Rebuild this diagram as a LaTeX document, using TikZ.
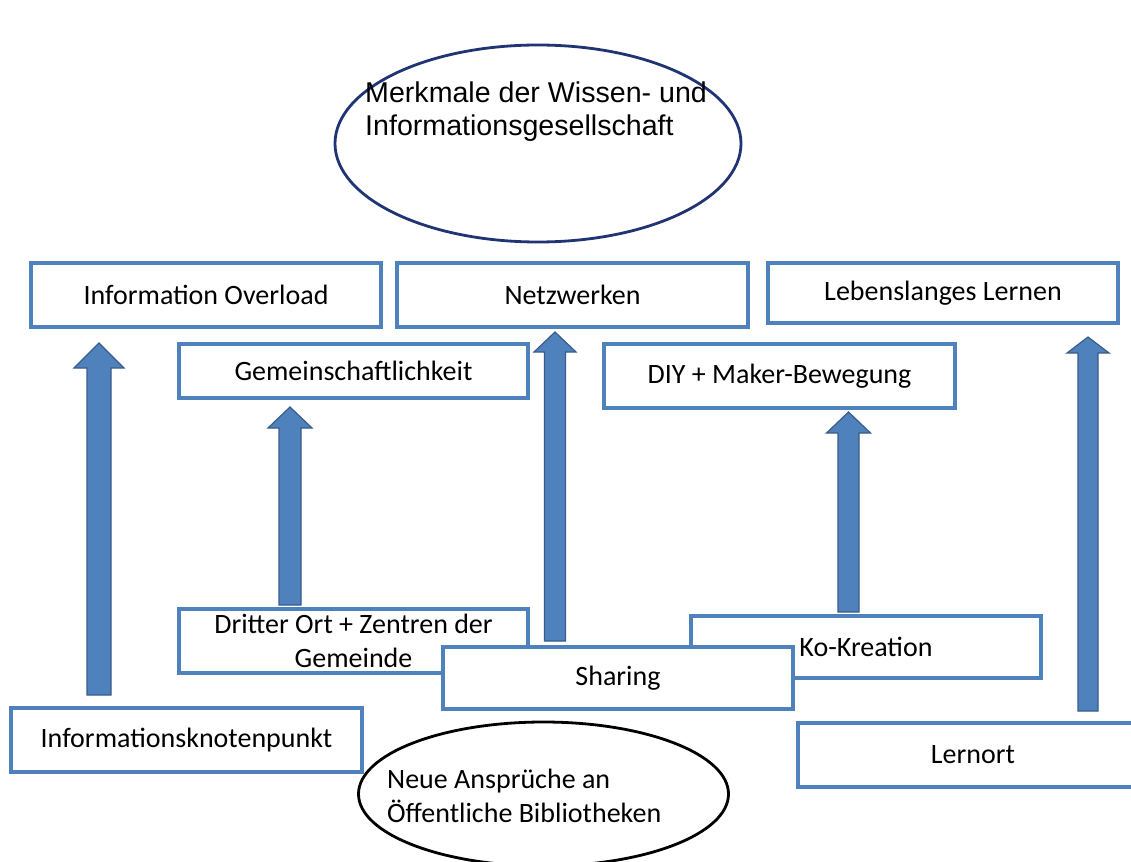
\documentclass[tikz,border=0pt]{standalone}
\usepackage{fontspec}
\setmainfont{Carlito}
\newfontfamily\arialf{Liberation Sans}
\usetikzlibrary{calc,shapes.geometric}
\definecolor{boxblue}{RGB}{79,129,189}
\definecolor{arrline}{RGB}{56,93,138}
\definecolor{navyline}{RGB}{32,52,115}
\tikzset{
  box/.style={draw=boxblue, line width=3.1pt, fill=white, inner sep=0pt,
    minimum width=350pt, minimum height=64pt, align=center,
    font=\fontsize{28pt}{34pt}\selectfont},
  ovalnode/.style={ellipse, line width=2.8pt, inner sep=0pt, fill=white},
  labeltext/.style={inner sep=0pt, align=left, anchor=west},
  arrowbody/.style={fill=boxblue, draw=arrline, line width=1.2pt, line join=miter}
}
\newcommand{\blockarr}[5]{%
  \path[arrowbody] let \p1=(#1), \p2=(#2) in
    (\x1,\y1) -- (\x1+#4pt,\y1-#5pt) -- (\x1+#3pt,\y1-#5pt) -- (\x1+#3pt,\y2)
    -- (\x1-#3pt,\y2) -- (\x1-#3pt,\y1-#5pt) -- (\x1-#4pt,\y1-#5pt) -- cycle;}
\begin{document}
\begin{tikzpicture}[x=1pt,y=-1pt]
\clip (0,0) rectangle (1131,861);
\fill[white] (0,0) rectangle (1131,861);

% top ellipse
\node[ovalnode, draw=navyline, minimum width=406pt, minimum height=197pt] (top) at (538,143.5) {};
\node[labeltext, font=\arialf\fontsize{28.6pt}{33pt}\selectfont] (toptext) at (365,112)
  {Merkmale der Wissen- und\\Informationsgesellschaft};

% upper row boxes
\node[box] (io) at (206,295) {Information Overload};
\node[box, minimum width=351pt] (nw) at (572.5,295) {Netzwerken};
\node[box, minimum height=60pt] (ll) at (943,293) {Lebenslanges Lernen};
\node[box, minimum width=349pt, minimum height=54pt] (gm) at (353.5,371) {Gemeinschaftlichkeit};
\node[box, minimum width=351pt] (diy) at (779.5,376) {DIY + Maker-Bewegung};

% lower boxes
\node[box, minimum width=349pt] (dr) at (353.5,641) {Dritter Ort + Zentren der\\Gemeinde};
\node[box, minimum height=62pt] (ko) at (866,647) {Ko-Kreation};
\node[box, minimum height=62pt] (sh) at (618,678) {Sharing};
\node[box, minimum width=351pt] (ik) at (186.5,740) {Informationsknotenpunkt};
\node[box] (ln) at (973,755) {Lernort};

% bottom ellipse
\node[ovalnode, draw=black, minimum width=370pt, minimum height=144pt] (bot) at (543.5,794) {};
\node[labeltext, font=\fontsize{28pt}{34pt}\selectfont] (bottext) at (387,796)
  {Neue Ansprüche an\\Öffentliche Bibliotheken};

% arrow end points
\coordinate (a1t) at (99,343);   \coordinate (a1b) at (99,695);
\coordinate (a2t) at (290,407);  \coordinate (a2b) at (290,605);
\coordinate (a3t) at (555,332);  \coordinate (a3b) at (555,641);
\coordinate (a4t) at (848.5,412);\coordinate (a4b) at (848.5,612);
\coordinate (a5t) at (1088,337); \coordinate (a5b) at (1088,711);

\blockarr{a1t}{a1b}{12}{25}{25}
\blockarr{a2t}{a2b}{11}{22}{21}
\blockarr{a3t}{a3b}{10.5}{21}{20}
\blockarr{a4t}{a4b}{10.5}{22}{21}
\blockarr{a5t}{a5b}{10}{21}{16}
\end{tikzpicture}
\end{document}
